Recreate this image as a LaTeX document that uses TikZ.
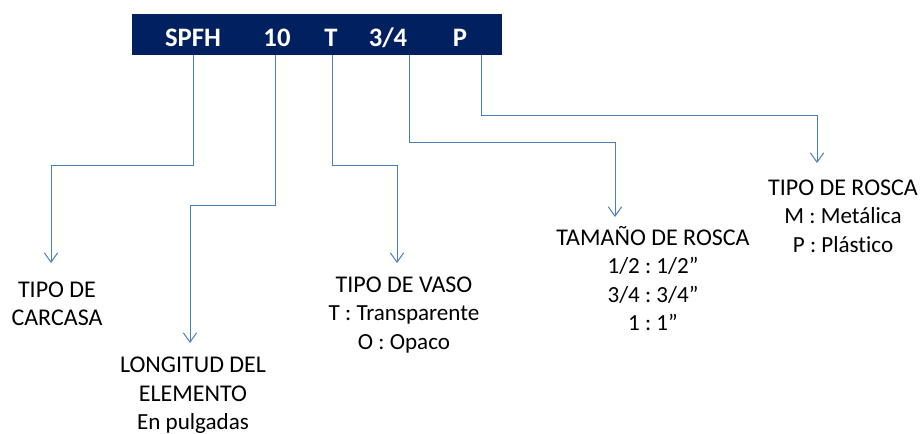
\documentclass[tikz,border=0pt]{standalone}
\usepackage{fontspec}
\setmainfont{Carlito}[Ligatures=NoCommon]
\usetikzlibrary{arrows.meta, positioning}
\definecolor{barblue}{HTML}{002060}
\definecolor{linkblue}{HTML}{4A7EBB}
\newcommand{\subline}{\fontsize{17.3}{21.4}\selectfont}
\frenchspacing

\begin{document}
\begin{tikzpicture}[x=0.75pt, y=-0.75pt,
    field/.style={anchor=base, text=white, inner sep=0pt,
      font=\bfseries\fontsize{20}{24}\selectfont},
    title/.style={anchor=north, align=center, inner sep=0pt,
      font=\fontsize{18}{21.4}\selectfont},
    link/.style={draw=linkblue, line width=0.75pt,
      -{Straight Barb[length=7pt, width=10pt]}}]
    \path[use as bounding box] (0,0) rectangle (922,434);

    % code bar
    \node (bar) [fill=barblue, anchor=north west, inner sep=0pt,
      minimum width=277.5pt, minimum height=30.75pt] at (132,14) {};
    \node (spfh) [field] at (193,47) {SPFH};
    \node (len)  [field] at (277,47) {10};
    \node (cup)  [field] at (331,47) {T};
    \node (size) [field] at (388,47) {3/4};
    \node (thr)  [field] at (460,47) {P};

    \coordinate (c1) at (193,55);
    \coordinate (c2) at (275,55);
    \coordinate (c3) at (332,55);
    \coordinate (c4) at (409,55);
    \coordinate (c5) at (481,55);

    % labels
    \node (carcasa) [title] at (57,281.5) {TIPO DE\\CARCASA};
    \node (longitud) [title] at (193,357) {LONGITUD DEL\\ELEMENTO\\\subline En pulgadas};
    \node (vaso) [title] at (404,276.5) {TIPO DE VASO\\\subline T : Transparente\\\subline O : Opaco};
    \node (tamano) [title] at (653,226) {TAMAÑO DE ROSCA\\\subline 1/2 : 1/2”\\\subline 3/4 : 3/4”\\\subline 1 : 1”};
    \node (rosca) [title] at (843,179.5) {TIPO DE ROSCA\\\subline M : Metálica\\\subline P : Plástico};

    \coordinate (t1) at (51,263);
    \coordinate (t2) at (190,343);
    \coordinate (t3) at (397,263);
    \coordinate (t4) at (615,217);
    \coordinate (t5) at (817,163);

    % connectors
    \draw[link] (c1) -- ++(0,111) -| (t1);
    \draw[link] (c2) -- ++(0,151) -| (t2);
    \draw[link] (c3) -- ++(0,111) -| (t3);
    \draw[link] (c4) -- ++(0,88) -| (t4);
    \draw[link] (c5) -- ++(0,61) -| (t5);

\end{tikzpicture}
\end{document}
